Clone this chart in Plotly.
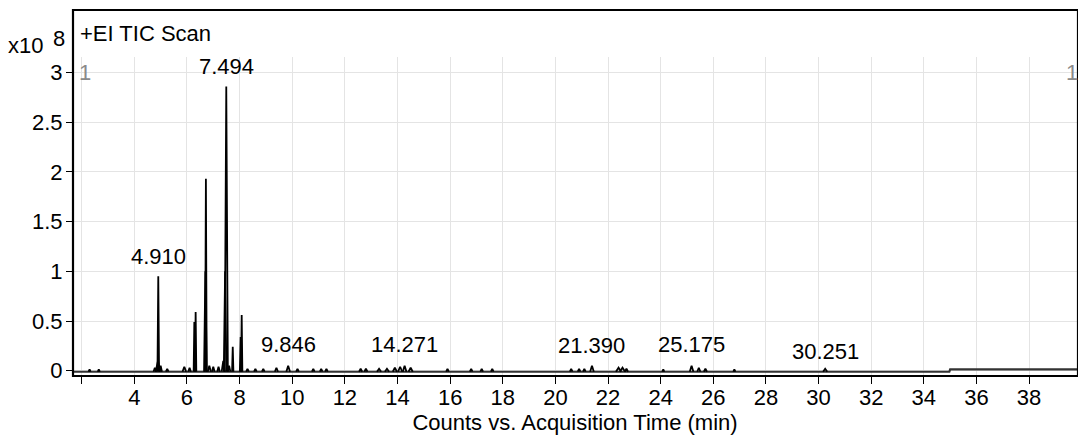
import plotly.graph_objects as go

# ---- data (time in min, counts in x10^8) ----
peak_rt = [2.30, 2.65, 4.78, 4.90, 4.91, 5.00, 5.25, 5.90, 6.10, 6.28, 6.33, 6.70, 6.72, 6.85, 7.00,
           7.20, 7.38, 7.45, 7.494, 7.60, 7.74, 8.04, 8.08, 8.30, 8.60, 8.90, 9.40, 9.846, 10.20,
           10.80, 11.10, 11.30, 12.60, 12.80, 13.30, 13.60, 13.90, 14.10, 14.271, 14.50, 15.90,
           16.80, 17.20, 17.60, 20.60, 20.90, 21.10, 21.390, 22.40, 22.55, 22.70, 24.10, 25.175,
           25.45, 25.70, 26.80, 30.251]
peak_height = [0.015, 0.015, 0.03, 0.10, 0.95, 0.05, 0.02, 0.04, 0.03, 0.49, 0.59, 1.00, 1.93, 0.05, 0.04,
               0.04, 0.10, 1.00, 2.86, 0.05, 0.24, 0.34, 0.56, 0.02, 0.02, 0.02, 0.03, 0.05, 0.02,
               0.02, 0.02, 0.02, 0.02, 0.02, 0.02, 0.02, 0.03, 0.04, 0.05, 0.03, 0.02,
               0.02, 0.02, 0.02, 0.02, 0.02, 0.02, 0.05, 0.03, 0.03, 0.02, 0.015, 0.05,
               0.03, 0.02, 0.015, 0.02]
peak_halfwidth = [0.04, 0.04, 0.05, 0.09, 0.03, 0.05, 0.05, 0.07, 0.05, 0.025, 0.025, 0.05, 0.03, 0.06, 0.05,
                  0.05, 0.06, 0.05, 0.06, 0.05, 0.025, 0.03, 0.025, 0.05, 0.05, 0.05, 0.06, 0.07, 0.05,
                  0.05, 0.05, 0.05, 0.06, 0.06, 0.08, 0.08, 0.08, 0.08, 0.07, 0.08, 0.05,
                  0.05, 0.05, 0.05, 0.05, 0.05, 0.05, 0.07, 0.10, 0.10, 0.06, 0.04, 0.07,
                  0.06, 0.06, 0.04, 0.08]

baseline_rt = [1.67, 34.97, 35.00, 39.90]
baseline_counts = [-0.01, -0.01, 0.014, 0.014]

label_rt = [4.910, 7.494, 9.846, 14.271, 21.390, 25.175, 30.251]
label_text = ["4.910", "7.494", "9.846", "14.271", "21.390", "25.175", "30.251"]
label_counts = [0.95, 2.86, 0.07, 0.07, 0.06, 0.065, 0.0]

x_tickvals = [2, 4, 6, 8, 10, 12, 14, 16, 18, 20, 22, 24, 26, 28, 30, 32, 34, 36, 38]
x_ticktext = [""] + [str(v) for v in x_tickvals[1:]]
y_tickvals = [0, 0.5, 1, 1.5, 2, 2.5, 3]
y_ticktext = ["0", "0.5", "1", "1.5", "2", "2.5", "3"]

FONT = "Liberation Sans, Arial, sans-serif"
FS = 22

# build the peak polyline (each peak rises from baseline to its apex and back)
px, py = [], []
for t, h, w in zip(peak_rt, peak_height, peak_halfwidth):
    b = -0.01 if t < 35 else 0.014
    px += [t - w, t, t + w, None]
    py += [b, h, b, None]

fig = go.Figure()
fig.add_trace(go.Scatter(x=baseline_rt, y=baseline_counts, mode="lines",
                         line=dict(color="#333333", width=2.2), hoverinfo="skip"))
fig.add_trace(go.Scatter(x=px, y=py, mode="lines",
                         line=dict(color="black", width=1.8), hoverinfo="skip"))

annotations = []
for t, txt, c in zip(label_rt, label_text, label_counts):
    annotations.append(dict(x=t, y=c, text=txt, showarrow=False, xref="x", yref="y",
                            yanchor="bottom", yshift=5, font=dict(size=FS, color="black", family=FONT)))

fig.update_layout(
    width=1078, height=439,
    margin=dict(l=73, r=1, t=57, b=63),
    paper_bgcolor="white", plot_bgcolor="white",
    showlegend=False,
    font=dict(family=FONT, size=FS, color="black"),
    xaxis=dict(range=[1.67, 39.82], tickvals=x_tickvals, ticktext=x_ticktext,
               ticks="outside", ticklen=7, tickcolor="black", tickwidth=1,
               ticklabelstandoff=-5,
               showgrid=True, gridcolor="#e4e4e4", gridwidth=1, zeroline=False,
               showline=False,
               tickfont=dict(size=FS, family=FONT, color="black"),
               title=dict(text="Counts vs. Acquisition Time (min)", standoff=0,
                          font=dict(size=FS, family=FONT, color="black"))),
    yaxis=dict(range=[-0.053, 3.156], tickvals=y_tickvals, ticktext=y_ticktext,
               ticks="outside", ticklen=6, tickcolor="black", tickwidth=1,
               ticklabelstandoff=-1,
               showgrid=True, gridcolor="#e4e4e4", gridwidth=1, zeroline=False,
               showline=False,
               tickfont=dict(size=FS, family=FONT, color="black")),
)

# pixel helpers for the text placed outside the plotting area
plot_top, plot_bottom = 57, 439 - 63
def py_paper(ypix):
    return (plot_bottom - ypix) / (plot_bottom - plot_top)
def px_paper(xpix):
    return (xpix - 73) / (1078 - 1 - 73)

annotations += [
    dict(x=px_paper(78), y=py_paper(33), xref="paper", yref="paper", text="+EI TIC Scan", showarrow=False,
         xanchor="left", yanchor="middle", font=dict(size=FS, color="black", family=FONT)),
    dict(x=px_paper(45), y=py_paper(45), xref="paper", yref="paper", text="x10", showarrow=False,
         xanchor="right", yanchor="middle", font=dict(size=FS, color="black", family=FONT)),
    dict(x=px_paper(51), y=py_paper(38), xref="paper", yref="paper", text="8", showarrow=False,
         xanchor="left", yanchor="middle", font=dict(size=FS, color="black", family=FONT)),
    dict(x=px_paper(85), y=py_paper(72), xref="paper", yref="paper", text="1", showarrow=False,
         xanchor="center", yanchor="middle", font=dict(size=FS, color="#8a8a8a", family=FONT)),
    dict(x=px_paper(1072), y=py_paper(72), xref="paper", yref="paper", text="1", showarrow=False,
         xanchor="center", yanchor="middle", font=dict(size=FS, color="#8a8a8a", family=FONT)),
]
fig.update_layout(annotations=annotations)

fig.add_shape(type="rect", xref="paper", yref="paper", x0=0, x1=1.001,
              y0=0, y1=py_paper(10), line=dict(color="black", width=2.2),
              fillcolor="rgba(0,0,0,0)", layer="above")

fig.write_html("out.html")
